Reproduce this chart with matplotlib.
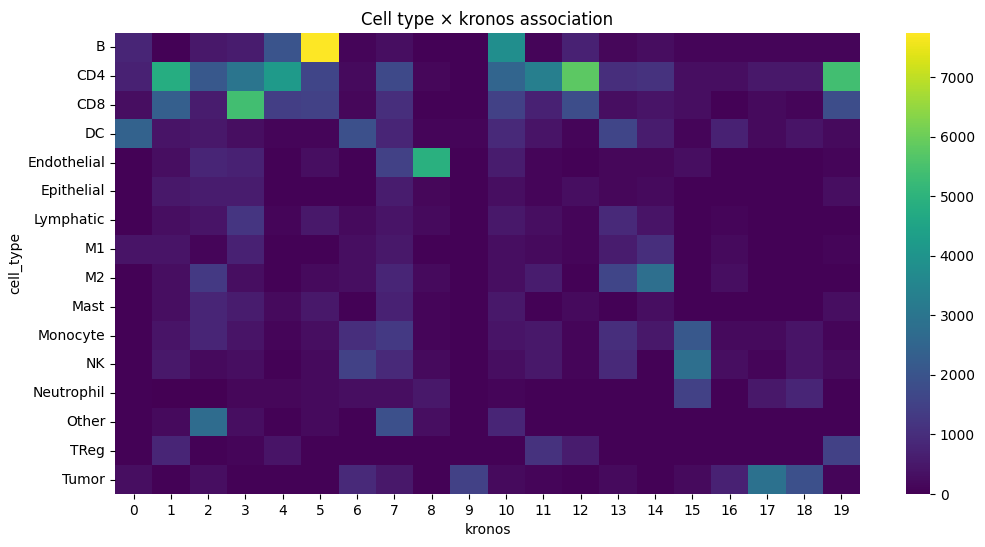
import numpy as np
import pandas as pd
import matplotlib
matplotlib.use('Agg')
import matplotlib.pyplot as plt
import seaborn as sns

cell_types = ['B', 'CD4', 'CD8', 'DC', 'Endothelial', 'Epithelial', 'Lymphatic', 'M1',
              'M2', 'Mast', 'Monocyte', 'NK', 'Neutrophil', 'Other', 'TReg', 'Tumor']
kronos = list(range(20))

b = [800, 50, 500, 600, 2000, 7740, 100, 300, 50, 50, 3800, 100, 700, 150, 250, 100, 100, 100, 100, 100]
cd4 = [700, 4800, 2100, 3000, 4200, 1600, 200, 1700, 150, 50, 2500, 3300, 5800, 1000, 1100, 300, 300, 500, 500, 5400]
cd8 = [300, 2300, 600, 5400, 1400, 1500, 150, 1000, 50, 50, 1500, 700, 1800, 300, 400, 300, 50, 200, 100, 1800]
dc = [2400, 400, 500, 300, 100, 100, 1900, 800, 100, 100, 900, 400, 100, 1600, 600, 100, 700, 200, 400, 200]
endothelial = [50, 300, 800, 700, 50, 300, 50, 1500, 4900, 50, 600, 100, 50, 150, 150, 300, 50, 50, 50, 100]
epithelial = [50, 500, 600, 600, 50, 50, 50, 600, 150, 50, 300, 100, 300, 150, 200, 50, 50, 50, 50, 300]
lymphatic = [50, 300, 400, 1200, 100, 500, 200, 400, 200, 50, 500, 300, 100, 900, 400, 50, 100, 50, 50, 50]
m1 = [400, 400, 100, 700, 50, 50, 300, 500, 50, 50, 300, 200, 100, 600, 1000, 50, 200, 50, 50, 100]
m2 = [50, 300, 1300, 300, 50, 200, 300, 800, 200, 50, 300, 600, 50, 1600, 2800, 50, 300, 50, 50, 50]
mast = [50, 300, 800, 600, 200, 500, 50, 700, 100, 50, 500, 50, 200, 50, 300, 50, 50, 50, 50, 300]
monocyte = [50, 400, 800, 400, 100, 300, 1000, 1300, 100, 50, 400, 500, 100, 1000, 500, 2100, 200, 200, 400, 100]
nk = [50, 500, 200, 300, 50, 200, 1500, 900, 200, 50, 300, 500, 100, 900, 50, 2800, 300, 100, 400, 200]
neutrophil = [50, 0, 0, 150, 150, 200, 300, 300, 500, 50, 100, 50, 50, 50, 50, 1500, 50, 500, 800, 50]
other = [50, 200, 2700, 300, 50, 200, 50, 1900, 300, 50, 800, 50, 50, 50, 50, 50, 50, 50, 50, 50]
treg = [50, 800, 50, 100, 400, 50, 50, 50, 50, 50, 50, 1100, 600, 50, 50, 50, 50, 50, 50, 1500]
tumor = [300, 50, 300, 50, 50, 50, 900, 500, 50, 1500, 200, 100, 50, 200, 50, 200, 700, 2900, 1900, 100]

rows = [b, cd4, cd8, dc, endothelial, epithelial, lymphatic, m1, m2, mast,
        monocyte, nk, neutrophil, other, treg, tumor]
df = pd.DataFrame(rows, index=cell_types, columns=kronos)
df.index.name = 'cell_type'
df.columns.name = 'kronos'

fig = plt.figure(figsize=(9.85, 5.47), dpi=100)
ax = fig.add_axes([115/985, 53/547, 745/985, 461/547])
cax = fig.add_axes([906/985, 53/547, 24/985, 461/547])

sns.heatmap(df, cmap='viridis', ax=ax, cbar_ax=cax)
ax.set_title('Cell type \u00d7 kronos association')
ax.set_xlabel('kronos')
ax.set_ylabel('cell_type')
ax.tick_params(axis='y', rotation=0)

fig.savefig('out.png', dpi=100)
